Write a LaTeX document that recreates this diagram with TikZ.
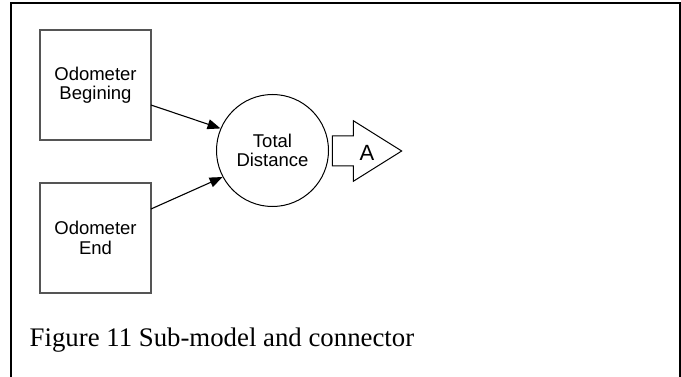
\documentclass[tikz,border=0pt]{standalone}
\usepackage{fontspec}
\setmainfont{Liberation Serif}
\newfontfamily\diagfont{Liberation Sans}
\usetikzlibrary{arrows.meta}
\definecolor{boxgray}{RGB}{85,85,85}
\tikzset{
  stockbox/.style={draw=boxgray, line width=1.3pt, minimum width=111pt, minimum height=110pt,
    inner sep=0pt, align=center, font=\diagfont\fontsize{18.5}{19.5}\selectfont},
  calcnode/.style={draw=black, line width=1pt, circle, minimum size=112pt, inner sep=0pt,
    align=center, font=\diagfont\fontsize{18.5}{19.5}\selectfont},
  flow/.style={draw=black, line width=1.1pt, -{Triangle[length=13pt,width=10pt]}},
  frameline/.style={draw=black, line width=2pt},
  portshape/.style={draw=black, line width=1pt, line join=miter},
}
\begin{document}
\begin{tikzpicture}[x=1pt,y=-1pt]
  \useasboundingbox (0,0) rectangle (681,377);
  % open frame around the figure
  \draw[frameline] (10.5,378) -- (10.5,3.2) -- (680,3.2) -- (680,378);

  % input boxes and the computed value
  \node[stockbox] (odobeg) at (95.5,85) {Odometer\\Begining};
  \node[stockbox] (odoend) at (95.5,238) {Odometer\\End};
  \node[calcnode] (total) at (272.5,150.5) {Total\\Distance};

  % flows into the circle
  \coordinate (begout) at (151,105);
  \coordinate (endout) at (151,209);
  \draw[flow] (begout) -- (total.157);
  \draw[flow] (endout) -- (total.208);

  % output connector
  \coordinate (p1) at (332.3,136);
  \coordinate (p2) at (353.3,136);
  \coordinate (p3) at (353.3,120.7);
  \coordinate (tip) at (401.7,151);
  \coordinate (p5) at (353.3,181.3);
  \coordinate (p6) at (353.3,166);
  \coordinate (p7) at (332.3,166);
  \draw[portshape] (p1) -- (p2) -- (p3) -- (tip) -- (p5) -- (p6) -- (p7) -- cycle;
  \node[font=\diagfont\fontsize{22}{24}\selectfont, inner sep=0pt] (portlabel) at (367,153) {A};

  % caption
  \node[anchor=base west, inner sep=0pt, font=\fontsize{26.8}{30}\selectfont] (caption) at (29.5,346)
    {Figure 11 Sub-model and connector};
\end{tikzpicture}
\end{document}
